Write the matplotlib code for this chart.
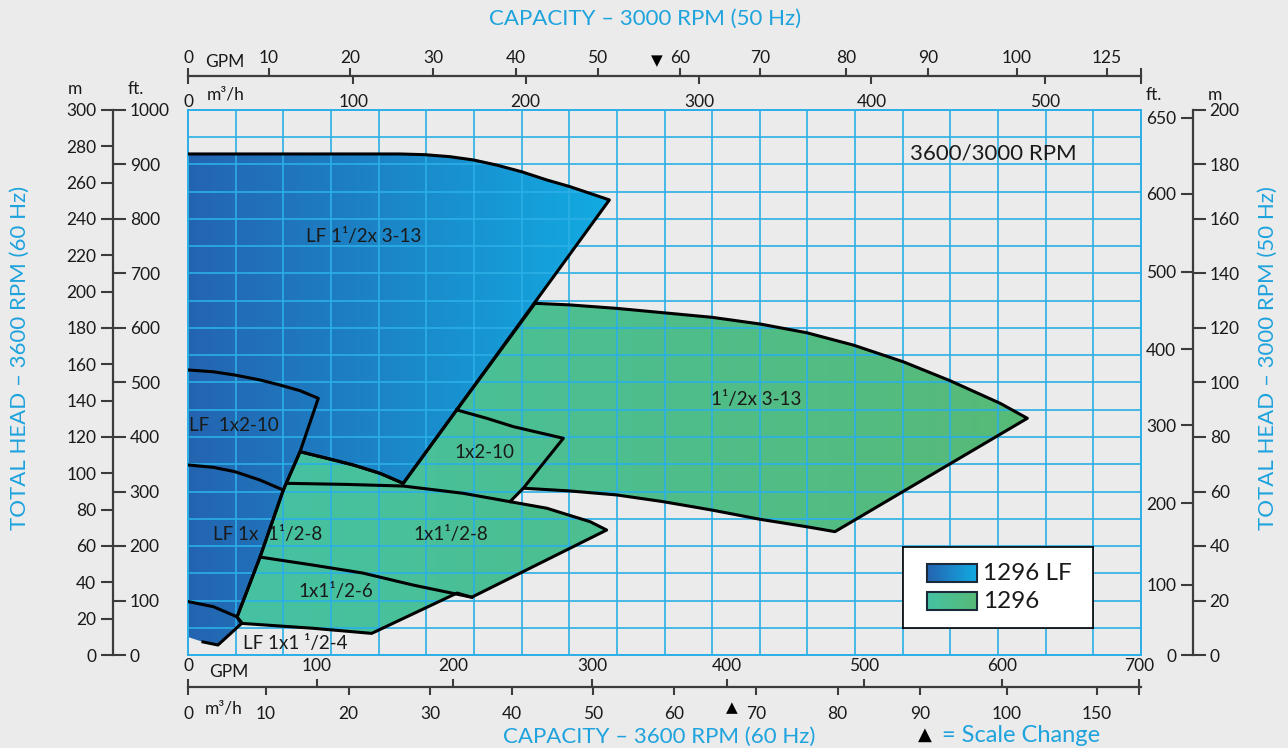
import numpy as np
import matplotlib
matplotlib.use('Agg')
import matplotlib.pyplot as plt
from matplotlib.patches import Polygon, Rectangle
from matplotlib.colors import LinearSegmentedColormap

plt.rcParams['font.family'] = ['Lato', 'DejaVu Sans']

# main coordinates: x = GPM @ 3600 rpm (grid 0..700), y = m @ 3600 rpm (0..300)

# 1296 LF envelope (blue)
lf_x = [0, 155.7, 174.1, 192.4, 209.6, 226.7, 245.1, 263.5, 280.6, 295.3, 309.5, 158.1, 141.0, 121.4,
        101.9, 82.3, 70.0, 52.9, 36.0, 39.7, 22.0, 11.0, 0]
lf_y = [275.8, 275.8, 275.4, 274.3, 272.5, 269.7, 266.0, 261.5, 257.8, 254.1, 250.5, 94.5, 100.0, 104.6,
        108.3, 111.9, 90.8, 53.9, 20.9, 17.6, 5.5, 7.2, 9.9]

# 1296 envelope (green)
std_x = [254.9, 280.6, 314.9, 349.1, 384.7, 420.2, 454.4, 488.7, 525.4, 559.7, 596.4, 616.5,
         475.2, 454.4, 420.2, 384.7, 349.1, 314.9, 280.6, 246.3, 236.5, 263.5, 279.3, 295.3, 307.5,
         208.4, 197.6, 134.9, 92.0, 39.4, 36.0, 52.9, 70.0, 82.3, 101.9, 121.4, 141.0, 158.1, 197.4, 254.9]
std_y = [193.6, 192.7, 190.8, 188.4, 185.9, 182.2, 177.4, 170.6, 161.4, 151.0, 138.6, 130.3,
         67.9, 70.6, 74.7, 79.8, 84.4, 88.1, 90.3, 91.8, 84.4, 80.8, 77.1, 73.4, 68.8,
         31.8, 34.1, 11.9, 14.7, 17.4, 20.9, 53.9, 90.8, 111.9, 108.3, 104.6, 100.0, 94.5, 134.9, 193.6]

# dividing curves between pump sizes
lf_1x2_10_x = [82.3, 95.7, 82.3, 67.6, 52.9, 34.5, 18.6, 0]
lf_1x2_10_y = [111.9, 141.3, 145.5, 148.6, 151.4, 154.1, 155.9, 156.9]
lf_1x15_8_x = [0, 18.6, 34.5, 52.9, 70.0]
lf_1x15_8_y = [104.6, 103.3, 100.9, 96.3, 90.8]
lf_1x15_4_x = [0, 18.6, 35.8]
lf_1x15_4_y = [29.4, 26.6, 21.1]
s_1x2_10_x = [197.4, 219.4, 239.0, 275.7, 246.3]
s_1x2_10_y = [134.9, 130.3, 125.7, 119.3, 91.8]
s_1x15_8_x = [72.5, 116.6, 158.1, 202.2, 236.5]
s_1x15_8_y = [94.5, 93.9, 93.0, 89.0, 84.4]
s_1x15_6_x = [52.9, 91.8, 128.5, 165.3, 208.4]
s_1x15_6_y = [53.9, 49.5, 45.1, 38.5, 31.8]

size_labels = ['LF 1\u00b9/2x 3-13', 'LF  1x2-10', '1x2-10', '1\u00b9/2x 3-13',
               'LF 1x  1\u00b9/2-8', '1x1\u00b9/2-8', '1x1\u00b9/2-6', 'LF 1x1 \u00b9/2-4']
size_lab_x = [129.3, 33.8, 217.4, 417.2, 58.8, 193.2, 108.7, 78.6]
size_lab_y = [230.1, 126.6, 111.2, 140.4, 66.1, 66.1, 35.2, 6.6]

# scales (tick positions given in main x / y units)
top_gpm = ['0', '10', '20', '30', '40', '50', '60', '70', '80', '90', '100', '125', '']
top_gpm_at = [0, 59.5, 119.0, 180.0, 240.9, 300.8, 361.4, 420.1, 483.3, 543.5, 608.9, 674.7, 700]
top_m3h = ['0', '100', '200', '300', '400', '500', '']
top_m3h_at = [0, 121.3, 248.0, 375.7, 502.0, 629.5, 700]
bot_gpm = ['0', '100', '200', '300', '400', '500', '600', '700']
bot_gpm_at = [0, 94.5, 194.7, 296.8, 395.9, 496.5, 597.9, 698.5]
bot_m3h = ['0', '10', '20', '30', '40', '50', '60', '70', '80', '90', '100', '150', '']
bot_m3h_at = [0, 57.3, 117.9, 177.8, 237.7, 297.5, 357.0, 417.0, 477.1, 537.7, 601.6, 667.4, 698.5]
left_m = list(range(0, 301, 20))
left_ft = list(range(0, 1001, 100))
right_ft = [0, 100, 200, 300, 400, 500, 600, 650]
right_ft_at = [0, 38.8, 83.5, 126.4, 168.4, 210.9, 253.8, 295.6]
right_m = list(range(0, 201, 20))

W, H = 1288, 748
BG = '#ebebeb'
GRID = '#2bafe6'
CYAN = '#1ea3dd'
INK = '#1a1a1a'
AXC = '#3c3c3c'
BLUE = ('#2464b0', '#12abe2')
GREEN = ('#45c2a3', '#57ba77')

fig = plt.figure(figsize=(W / 100, H / 100), dpi=100, facecolor=BG)


def box(x0, y0, x1, y1):
    return [x0 / W, 1 - y1 / H, (x1 - x0) / W, (y1 - y0) / H]


ax = fig.add_axes(box(188, 110, 1141, 655))
ax.set_facecolor('none')


def grad_fill(a, xs, ys, cols, z=1):
    cmap = LinearSegmentedColormap.from_list('g', cols)
    poly = Polygon(np.column_stack([xs, ys]), closed=True, fc='none', ec='none')
    a.add_patch(poly)
    im = a.imshow(np.linspace(0, 1, 256)[None, :], cmap=cmap, aspect='auto', origin='lower',
                  extent=[min(xs), max(xs), min(ys), max(ys)], zorder=z, interpolation='bilinear')
    im.set_clip_path(poly)


grad_fill(ax, lf_x, lf_y, BLUE)
grad_fill(ax, std_x, std_y, GREEN)

lw = 2.2
ax.plot(lf_x[:-1], lf_y[:-1], color='black', lw=lw, zorder=3, solid_joinstyle='round')
ax.plot(std_x, std_y, color='black', lw=lw, zorder=3, solid_joinstyle='round')
for xs, ys in [(lf_1x2_10_x, lf_1x2_10_y), (lf_1x15_8_x, lf_1x15_8_y), (lf_1x15_4_x, lf_1x15_4_y),
               (s_1x2_10_x, s_1x2_10_y), (s_1x15_8_x, s_1x15_8_y), (s_1x15_6_x, s_1x15_6_y)]:
    ax.plot(xs, ys, color='black', lw=lw, zorder=3, solid_joinstyle='round')

for t, x, y in zip(size_labels, size_lab_x, size_lab_y):
    ax.text(x, y, t, ha='center', va='center', fontsize=13.5, color=INK, zorder=4)
ax.text(591.3, 275.8, '3600/3000 RPM', ha='center', va='center', fontsize=16, color=INK, zorder=4)

ax.set_xlim(0, 700)
ax.set_ylim(0, 300)
ax.set_xticks(np.arange(0, 701, 35))
ax.set_yticks(np.arange(0, 301, 15))
ax.tick_params(length=0, labelbottom=False, labelleft=False)
ax.set_axisbelow(False)
ax.grid(True, color=GRID, lw=1.2)
for s in ax.spines.values():
    s.set_color(GRID)
    s.set_linewidth(1.4)

TK = dict(colors=AXC, labelcolor=INK, labelsize=12.5, width=1.5, direction='out')


def h_scale(ypx, up_lab, up_at, dn_lab, dn_at, up_pad, dn_pad):
    a = fig.add_axes([188 / W, 1 - ypx / H, 953 / W, 1e-6])
    a.set_facecolor('none')
    for s in a.spines.values():
        s.set_visible(False)
    a.set_xlim(0, 700)
    a.set_yticks([])
    a.xaxis.set_ticks_position('top')
    a.set_xticks(up_at, labels=up_lab)
    a.tick_params(axis='x', length=6, pad=up_pad, **TK)
    sec = a.secondary_xaxis('bottom')
    sec.set_xticks(dn_at, labels=dn_lab)
    sec.tick_params(axis='x', length=6, pad=dn_pad, **TK)
    sec.spines['bottom'].set_color(AXC)
    sec.spines['bottom'].set_linewidth(1.6)
    return a


def v_scale(xpx, l_lab, l_at, r_lab, r_at, l_pad, r_pad):
    a = fig.add_axes([xpx / W, 1 - 655 / H, 1e-6, 545 / H])
    a.set_facecolor('none')
    for s in a.spines.values():
        s.set_visible(False)
    a.set_ylim(0, 300)
    a.set_xticks([])
    a.set_yticks(l_at, labels=l_lab)
    a.tick_params(axis='y', length=9, pad=l_pad, **TK)
    sec = a.secondary_yaxis('right')
    sec.set_yticks(r_at, labels=r_lab)
    sec.tick_params(axis='y', length=9, pad=r_pad, **TK)
    sec.spines['right'].set_color(AXC)
    sec.spines['right'].set_linewidth(1.6)
    return a


h_scale(76, top_gpm, top_gpm_at, top_m3h, top_m3h_at, 1, 7)
h_scale(687, bot_gpm, bot_gpm_at, bot_m3h, bot_m3h_at, 3, 8)
v_scale(113, [str(v) for v in left_m], left_m, [str(v) for v in left_ft], [v * 0.3 for v in left_ft], 3, 3)
v_scale(1193, [str(v) for v in right_ft], right_ft_at, [str(v) for v in right_m], [v * 1.5 for v in right_m], 3, 3)


def ftext(x, y, s, **kw):
    fig.text(x / W, 1 - y / H, s, **kw)


small = dict(fontsize=12.5, color=INK, ha='center', va='center')
ftext(225, 62, 'GPM', **small)
ftext(226, 95, 'm\u00b3/h', **small)
ftext(229, 672, 'GPM', **small)
ftext(224, 709, 'm\u00b3/h', **small)
ftext(75, 89, 'm', **small)
ftext(136, 89, 'ft.', **small)
ftext(1154, 95, 'ft.', **small)
ftext(1215, 95, 'm', **small)
ftext(657, 61, '\u25bc', fontsize=11, color='black', ha='center', va='center', family='DejaVu Sans')
ftext(732, 708, '\u25b2', fontsize=11, color='black', ha='center', va='center', family='DejaVu Sans')

big = dict(fontsize=16, color=CYAN, ha='center', va='center')
ftext(645, 19, 'CAPACITY \u2013 3000 RPM (50 Hz)', **big)
ftext(659, 737, 'CAPACITY \u2013 3600 RPM (60 Hz)', **big)
ftext(20, 358, 'TOTAL HEAD \u2013 3600 RPM (60 Hz)', rotation=90, **big)
ftext(1268, 358, 'TOTAL HEAD \u2013 3000 RPM (50 Hz)', rotation=90, **big)
ftext(925, 735, '\u25b2', fontsize=13, color='black', ha='center', va='center', family='DejaVu Sans')
ftext(942, 735, '= Scale Change', fontsize=17, color=CYAN, ha='left', va='center')

# legend box
lg = fig.add_axes(box(903, 547, 1093, 628))
lg.set_xlim(0, 190)
lg.set_ylim(81, 0)
lg.set_xticks([])
lg.set_yticks([])
lg.set_facecolor('white')
for s in lg.spines.values():
    s.set_color('black')
    s.set_linewidth(1.2)
for (c0, c1), yy, name in [(BLUE, 17, '1296 LF'), (GREEN, 45, '1296')]:
    cm = LinearSegmentedColormap.from_list('l', [c0, c1])
    lg.imshow(np.linspace(0, 1, 64)[None, :], cmap=cm, aspect='auto', extent=[24, 74, yy + 18, yy])
    lg.add_patch(Rectangle((24, yy), 50, 18, fc='none', ec='#1b2a3a', lw=1.5))
    lg.text(80, yy + 9.5, name, fontsize=17.5, color=INK, va='center', ha='left')
lg.set_xlim(0, 190)
lg.set_ylim(81, 0)

fig.savefig('out.png', dpi=100, facecolor=BG)
